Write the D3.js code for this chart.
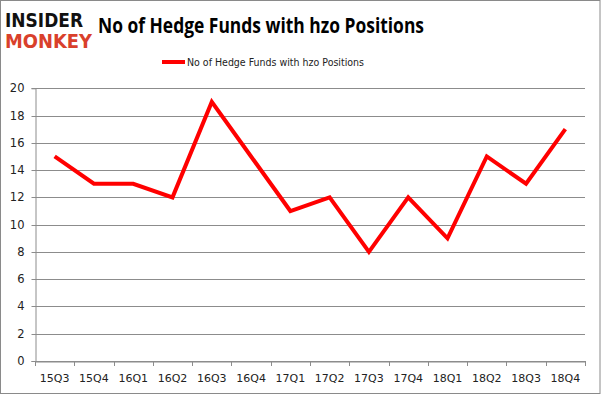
<!DOCTYPE html>
<html><head><meta charset="utf-8">
<script src="https://cdn.jsdelivr.net/npm/d3@7"></script>
<style>body{margin:0;background:#fff}svg{display:block}</style>
</head><body>
<script>
const categories = ["15Q3","15Q4","16Q1","16Q2","16Q3","16Q4","17Q1","17Q2","17Q3","17Q4","18Q1","18Q2","18Q3","18Q4"];
const values = [15,13,13,12,19,15,11,12,8,12,9,15,13,17];
const yTicks = [0,2,4,6,8,10,12,14,16,18,20];
const seriesName = "No of Hedge Funds with hzo Positions";
const titleText = "No of Hedge Funds with hzo Positions";

const W = 601, H = 395;
const svg = d3.select("body").append("svg").attr("width", W).attr("height", H);
svg.append("rect").attr("x",0.5).attr("y",0.5).attr("width",W-1.5).attr("height",H-2).attr("fill","#fff").attr("stroke","#8a8a8a");

const x = d3.scaleBand().domain(categories).range([35, 585]);
const y = d3.scaleLinear().domain([0,20]).range([361, 88.3]);

// gridlines
svg.append("g").selectAll("line").data(yTicks).join("line")
  .attr("x1",35).attr("x2",585).attr("y1",d=>Math.round(y(d))+0.5).attr("y2",d=>Math.round(y(d))+0.5)
  .attr("stroke","#8c8c8c").attr("stroke-width",1);

// y axis
const yAxis = svg.append("g").attr("transform","translate(35.5,0)")
  .call(d3.axisLeft(y).tickValues(yTicks).tickSize(4).tickPadding(7));
yAxis.select(".domain").attr("stroke","#8c8c8c");
yAxis.selectAll(".tick line").attr("stroke","#8c8c8c");
yAxis.selectAll(".tick").attr("transform", d=>`translate(0,${Math.round(y(d))+0.5})`);
yAxis.selectAll("text").attr("font-family","'DejaVu Sans', sans-serif").attr("font-size",11.5).attr("fill","#222");

// x axis
const xAxis = svg.append("g").attr("transform","translate(0,361.5)")
  .call(d3.axisBottom(x).tickSize(0).tickPadding(13));
xAxis.select(".domain").attr("stroke","#8c8c8c");
xAxis.selectAll(".tick line").remove();
const bounds = categories.map(c=>x(c)).concat([585]);
svg.append("g").selectAll("line").data(bounds).join("line")
  .attr("x1",d=>Math.round(d)+0.5).attr("x2",d=>Math.round(d)+0.5).attr("y1",361).attr("y2",366)
  .attr("stroke","#8c8c8c");
xAxis.selectAll("text").attr("font-family","'DejaVu Sans', sans-serif").attr("font-size",11).attr("fill","#222");

// line
const line = d3.line().x((d,i)=>x(categories[i])+x.bandwidth()/2).y(d=>y(d));
svg.append("path").datum(values).attr("d",line).attr("fill","none")
  .attr("stroke","#ff0000").attr("stroke-width",4).attr("stroke-linejoin","miter");

// title
svg.append("text").attr("x",261).attr("y",33).attr("text-anchor","middle")
  .attr("font-family","'Open Sans', sans-serif").attr("font-weight","bold").attr("font-size",21)
  .attr("textLength",326).attr("lengthAdjust","spacingAndGlyphs")
  .attr("fill","#000").text(titleText);

// legend
svg.append("line").attr("x1",162).attr("x2",185).attr("y1",62).attr("y2",62)
  .attr("stroke","#ff0000").attr("stroke-width",4);
svg.append("text").attr("x",187).attr("y",66).attr("font-family","'DejaVu Sans', sans-serif")
  .attr("font-size",11).attr("textLength",177).attr("lengthAdjust","spacingAndGlyphs").attr("fill","#222").text(seriesName);

// logo
svg.append("text").attr("x",5).attr("y",27).attr("font-family","'DejaVu Sans', sans-serif").attr("font-weight","bold")
  .attr("font-size",19).attr("textLength",78).attr("lengthAdjust","spacingAndGlyphs").attr("fill","#111").text("INSIDER");
svg.append("text").attr("x",5).attr("y",48).attr("font-family","'DejaVu Sans', sans-serif").attr("font-weight","bold")
  .attr("font-size",19).attr("textLength",87).attr("lengthAdjust","spacingAndGlyphs").attr("fill","#d9402b").text("MONKEY");
</script>
</body></html>
